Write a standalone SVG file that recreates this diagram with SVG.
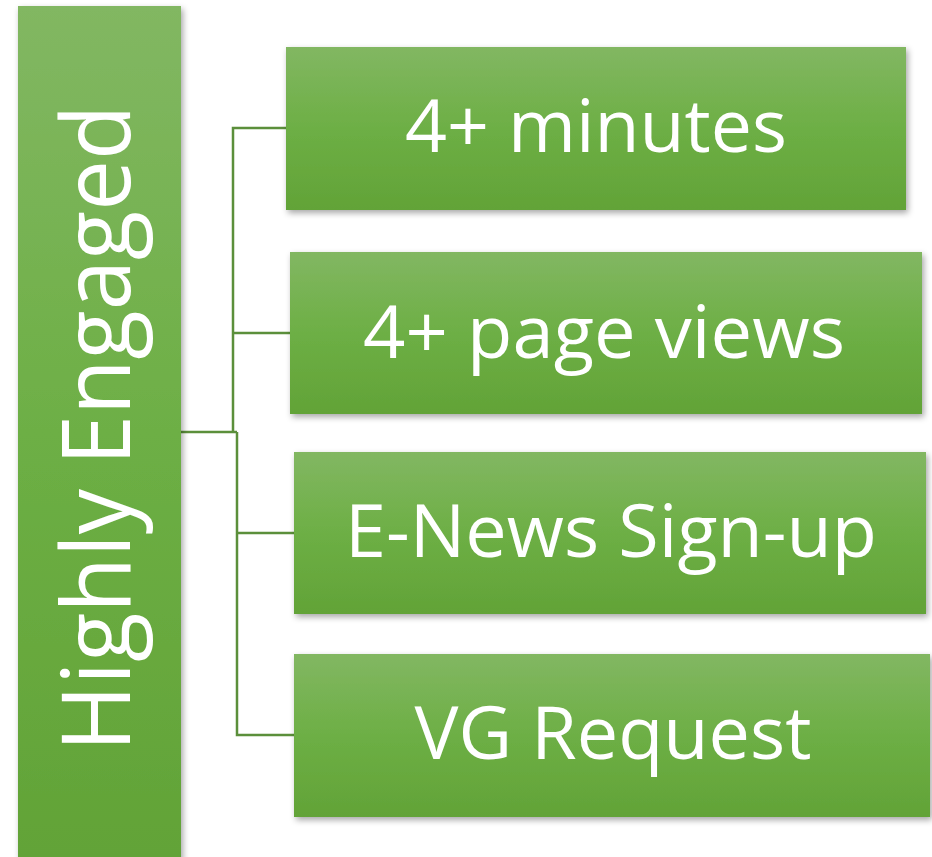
<svg xmlns="http://www.w3.org/2000/svg" width="932" height="857" viewBox="0 0 932 857">
  <defs>
    <linearGradient id="green" x1="0" y1="0" x2="0" y2="1">
      <stop offset="0" stop-color="#82b762"/>
      <stop offset="0.5" stop-color="#6daf45"/>
      <stop offset="1" stop-color="#62a337"/>
    </linearGradient>
    <linearGradient id="greenTall" gradientUnits="userSpaceOnUse" x1="0" y1="6" x2="0" y2="857">
      <stop offset="0" stop-color="#82b762"/>
      <stop offset="0.5" stop-color="#6daf45"/>
      <stop offset="1" stop-color="#62a337"/>
    </linearGradient>
    <filter id="shadow" x="-10%" y="-10%" width="125%" height="130%">
      <feDropShadow dx="2" dy="3" stdDeviation="3" flood-color="#000" flood-opacity="0.35"/>
    </filter>
  </defs>
  <style>
    .box { fill: url(#green); filter: url(#shadow); }
    .label { fill: #ffffff; font-family: "Open Sans", "Noto Sans", sans-serif; text-anchor: middle; }
    .item { font-size: 73px; }
    .wire { fill: none; stroke: #5b8f3b; stroke-width: 2.5; }
  </style>

  <rect width="932" height="857" fill="#ffffff"/>

  <g id="connectors">
    <path class="wire" d="M181 432 H237"/>
    <path class="wire" d="M286 128 H233 V432"/>
    <path class="wire" d="M233 333 H290"/>
    <path class="wire" d="M237 432 V735 H294"/>
    <path class="wire" d="M237 533 H294"/>
  </g>

  <g id="highly-engaged">
    <rect x="18" y="6" width="163" height="870" fill="url(#greenTall)" filter="url(#shadow)"/>
    <text class="label" x="0" y="0" font-size="95" transform="translate(130 428) rotate(-90)" textLength="647" lengthAdjust="spacingAndGlyphs">Highly Engaged</text>
  </g>

  <g id="minutes">
    <rect class="box" x="286" y="47" width="620" height="163"/>
    <text class="label item" x="596" y="152" textLength="382" lengthAdjust="spacingAndGlyphs">4+ minutes</text>
  </g>

  <g id="page-views">
    <rect class="box" x="290" y="252" width="632" height="162"/>
    <text class="label item" x="604" y="358" textLength="482" lengthAdjust="spacingAndGlyphs">4+ page views</text>
  </g>

  <g id="enews">
    <rect class="box" x="294" y="452" width="632" height="162"/>
    <text class="label item" x="611" y="557" textLength="532" lengthAdjust="spacingAndGlyphs">E-News Sign-up</text>
  </g>

  <g id="vg-request">
    <rect class="box" x="294" y="654" width="636" height="163"/>
    <text class="label item" x="613" y="759" textLength="397" lengthAdjust="spacingAndGlyphs">VG Request</text>
  </g>
</svg>
